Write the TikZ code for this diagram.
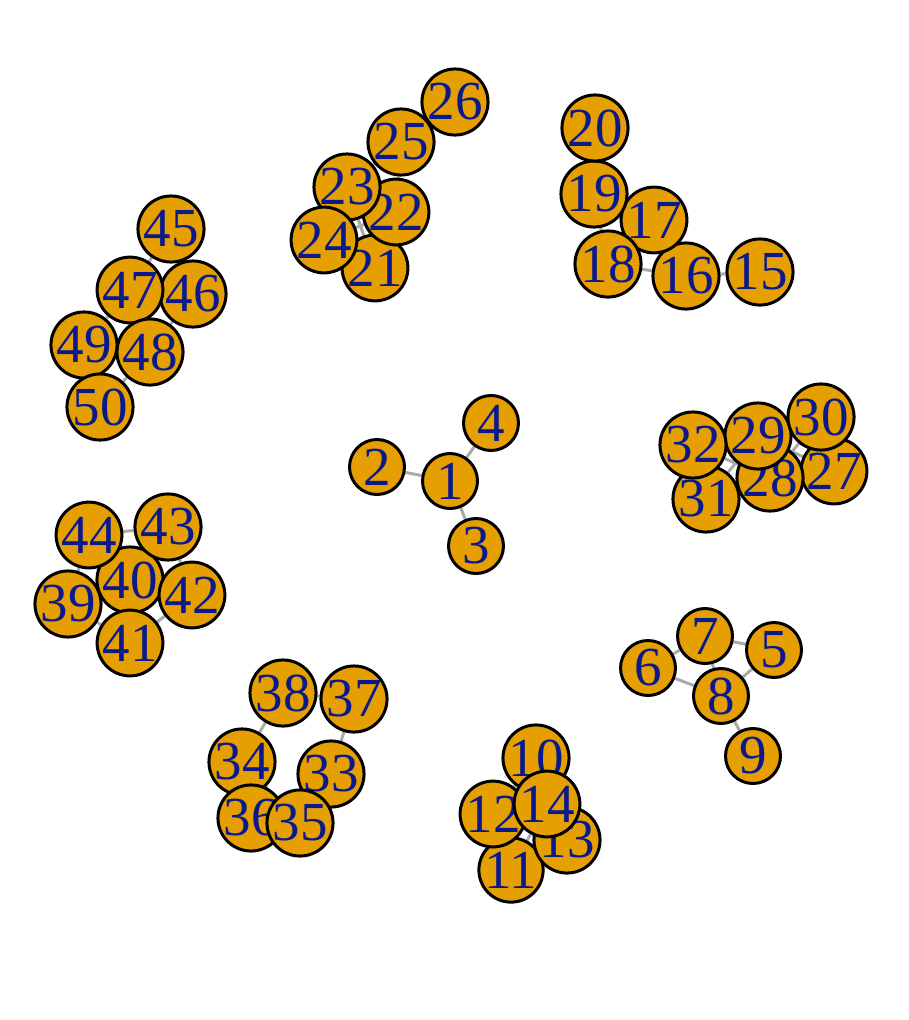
\documentclass[tikz,border=0pt]{standalone}
\usepackage{fontspec}
\setmainfont{Liberation Serif}
\usepackage{xcolor}
\usetikzlibrary{backgrounds}
\definecolor{vfill}{HTML}{E69F00}
\definecolor{vlabel}{HTML}{0A1A8C}
\definecolor{egray}{HTML}{AAAAAA}

\begin{document}
\begin{tikzpicture}[x=1pt, y=-1pt]
    % Styles
    \tikzstyle{vertex} = [circle, draw=black, line width=3pt, fill=vfill, minimum size=55pt, inner sep=0pt, text=vlabel, font=\fontsize{55}{55}\selectfont]
    \tikzstyle{edge} = [draw=egray, line width=3pt]

    \useasboundingbox (0,0) rectangle (908,1020);

    % Nodes
    \node [vertex] (v1) at (450,481) {1};
    \node [vertex] (v2) at (377,467) {2};
    \node [vertex] (v3) at (476,546) {3};
    \node [vertex] (v4) at (491,423) {4};
    \node [vertex] (v5) at (774,650) {5};
    \node [vertex] (v6) at (648,668) {6};
    \node [vertex] (v7) at (705,636) {7};
    \node [vertex] (v8) at (721,696) {8};
    \node [vertex] (v9) at (753,756) {9};
    \node [vertex] (v10) at (536,758) {10};
    \node [vertex] (v11) at (511,870) {11};
    \node [vertex] (v12) at (493,814) {12};
    \node [vertex] (v13) at (567,840) {13};
    \node [vertex] (v14) at (547,804) {14};
    \node [vertex] (v15) at (760,272) {15};
    \node [vertex] (v16) at (686,276) {16};
    \node [vertex] (v17) at (654,220) {17};
    \node [vertex] (v18) at (608,264) {18};
    \node [vertex] (v19) at (594,194) {19};
    \node [vertex] (v20) at (595,128) {20};
    \node [vertex] (v21) at (375,268) {21};
    \node [vertex] (v22) at (396,212) {22};
    \node [vertex] (v23) at (347,187) {23};
    \node [vertex] (v24) at (324,240) {24};
    \node [vertex] (v25) at (401,142) {25};
    \node [vertex] (v26) at (455,102) {26};
    \node [vertex] (v27) at (834,471) {27};
    \node [vertex] (v28) at (770,478) {28};
    \node [vertex] (v29) at (758,436) {29};
    \node [vertex] (v30) at (821,417) {30};
    \node [vertex] (v31) at (706,499) {31};
    \node [vertex] (v32) at (693,445) {32};
    \node [vertex] (v33) at (331,774) {33};
    \node [vertex] (v34) at (242,762) {34};
    \node [vertex] (v36) at (251,818) {36};
    \node [vertex] (v35) at (300,823) {35};
    \node [vertex] (v37) at (354,699) {37};
    \node [vertex] (v38) at (283,693) {38};
    \node [vertex] (v39) at (68,604) {39};
    \node [vertex] (v40) at (130,580) {40};
    \node [vertex] (v41) at (130,643) {41};
    \node [vertex] (v42) at (192,595) {42};
    \node [vertex] (v43) at (168,527) {43};
    \node [vertex] (v44) at (89,535) {44};
    \node [vertex] (v45) at (171,229) {45};
    \node [vertex] (v46) at (193,294) {46};
    \node [vertex] (v47) at (130,290) {47};
    \node [vertex] (v48) at (150,352) {48};
    \node [vertex] (v49) at (84,345) {49};
    \node [vertex] (v50) at (100,407) {50};

    % Edges
    \begin{pgfonlayer}{background}
    \foreach \a/\b in {1/2, 1/3, 1/4,
        6/7, 6/8, 7/5, 7/8, 5/8, 8/9,
        10/12, 10/14, 11/14, 12/14, 13/14, 11/12,
        15/16, 16/18, 16/17, 18/19, 17/19, 19/20,
        26/25, 25/23, 25/22, 23/24, 23/22, 23/21, 24/22, 24/21, 22/21,
        32/29, 32/28, 31/29, 31/28, 29/27, 28/30, 30/27, 29/30,
        38/37, 37/33, 38/34, 34/35, 33/35, 36/34, 36/35,
        44/43, 44/39, 39/41, 41/42, 42/43, 40/39, 40/42, 40/41, 40/43,
        45/47, 45/46, 47/46, 47/49, 47/48, 46/48, 49/48, 48/50}
        \path [edge] (v\a) -- (v\b);
    \end{pgfonlayer}
\end{tikzpicture}
\end{document}
